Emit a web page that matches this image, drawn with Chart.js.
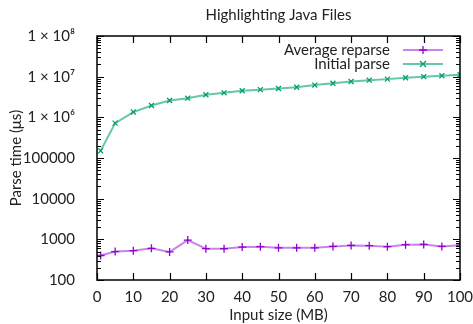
<!DOCTYPE html>
<html>
<head>
<meta charset="utf-8">
<script src="https://cdn.jsdelivr.net/npm/chart.js@4.4.1/dist/chart.umd.min.js"></script>
<style>
html,body{margin:0;padding:0;background:#fff;}
#wrap{width:473px;height:324px;}
</style>
</head>
<body>
<div id="wrap"><canvas id="c" width="473" height="324"></canvas></div>
<script>
const chartTitle = "Highlighting Java Files";
const xTitle = "Input size (MB)";
const yTitle = "Parse time (μs)";
const inputSizes = [1, 5, 10, 15, 20, 25, 30, 35, 40, 45, 50, 55, 60, 65, 70, 75, 80, 85, 90, 95, 100];
const averageReparse = [400, 500, 525, 600, 490, 960, 590, 590, 645, 660, 620, 620, 620, 670, 710, 700, 660, 740, 750, 670, 720];
const initialParse = [150000, 720000, 1350000, 1950000, 2600000, 2960000, 3600000, 4000000, 4500000, 4800000, 5100000, 5500000, 6200000, 6900000, 7600000, 8200000, 8700000, 9400000, 10000000, 10500000, 11200000];
const seriesNames = ["Average reparse", "Initial parse"];
const yTickValues = [100, 1000, 10000, 100000, 1000000, 10000000, 100000000];
const yTickLabels = ["100", "1000", "10000", "100000", "1 × 10⁶", "1 × 10⁷", "1 × 10⁸"];
const xTickValues = [0, 10, 20, 30, 40, 50, 60, 70, 80, 90, 100];

const FONT = "Lato";
const purple = "#9400d3", purpleLine = "rgba(165,50,220,0.6)";
const green = "#009e73", greenLine = "rgba(0,158,115,0.6)";

const decorPlugin = {
  id: 'decor',
  afterDraw(chart) {
    const ctx = chart.ctx, a = chart.chartArea;
    const xs = chart.scales.x, ys = chart.scales.y;
    ctx.save();
    ctx.strokeStyle = "#000";
    ctx.lineWidth = 1.2;
    ctx.beginPath();
    xTickValues.forEach(v => {
      const px = Math.round(xs.getPixelForValue(v)) + 0.5;
      ctx.moveTo(px, a.bottom); ctx.lineTo(px, a.bottom - 7);
      ctx.moveTo(px, a.top); ctx.lineTo(px, a.top + 7);
    });
    yTickValues.forEach((v, i) => {
      const py = Math.round(ys.getPixelForValue(v)) + 0.5;
      ctx.moveTo(a.left, py); ctx.lineTo(a.left + 7, py);
      ctx.moveTo(a.right, py); ctx.lineTo(a.right - 7, py);
      if (i < yTickValues.length - 1) {
        for (let m = 2; m <= 9; m++) {
          const my = Math.round(ys.getPixelForValue(v * m)) + 0.5;
          ctx.moveTo(a.left, my); ctx.lineTo(a.left + 4, my);
          ctx.moveTo(a.right, my); ctx.lineTo(a.right - 4, my);
        }
      }
    });
    ctx.stroke();
    ctx.lineWidth = 1.5;
    ctx.strokeRect(a.left, a.top, a.right - a.left, a.bottom - a.top);
    ctx.fillStyle = "#222";
    ctx.font = "15px " + FONT;
    ctx.textAlign = "center"; ctx.textBaseline = "middle";
    ctx.fillText(chartTitle, (a.left + a.right) / 2, 15);
    ctx.fillText(xTitle, (a.left + a.right) / 2, 315);
    ctx.save();
    ctx.translate(16, (a.top + a.bottom) / 2);
    ctx.rotate(-Math.PI / 2);
    ctx.fillText(yTitle, 0, 0);
    ctx.restore();
    const rows = [50, 64];
    chart.data.datasets.forEach((ds, i) => {
      const y = rows[i];
      ctx.fillStyle = "#222";
      ctx.textAlign = "right";
      ctx.font = "15px " + FONT;
      ctx.fillText(ds.label, 390, y);
      ctx.strokeStyle = ds.borderColor;
      ctx.lineWidth = 2;
      ctx.beginPath(); ctx.moveTo(403, y); ctx.lineTo(443, y); ctx.stroke();
      ctx.strokeStyle = ds.pointBorderColor;
      ctx.lineWidth = 1.3;
      ctx.beginPath();
      if (i === 0) {
        ctx.moveTo(419, y); ctx.lineTo(427, y); ctx.moveTo(423, y - 4); ctx.lineTo(423, y + 4);
      } else {
        ctx.moveTo(420, y - 3); ctx.lineTo(426, y + 3); ctx.moveTo(420, y + 3); ctx.lineTo(426, y - 3);
      }
      ctx.stroke();
    });
    ctx.restore();
  }
};

new Chart(document.getElementById('c'), {
  type: 'line',
  data: {
    datasets: [
      {
        label: seriesNames[0],
        data: inputSizes.map((x, i) => ({x: x, y: averageReparse[i]})),
        borderColor: purpleLine, borderWidth: 2,
        pointStyle: 'cross', pointRadius: 4, pointBorderColor: purple, pointBorderWidth: 1.3,
        pointBackgroundColor: purple, tension: 0
      },
      {
        label: seriesNames[1],
        data: inputSizes.map((x, i) => ({x: x, y: initialParse[i]})),
        borderColor: greenLine, borderWidth: 2,
        pointStyle: 'crossRot', pointRadius: 3.5, pointBorderColor: green, pointBorderWidth: 1.3,
        pointBackgroundColor: green, tension: 0
      }
    ]
  },
  options: {
    responsive: false,
    animation: false,
    events: [],
    layout: { padding: { left: 0, top: 36, right: 13, bottom: 0 } },
    plugins: { legend: { display: false }, title: { display: false }, tooltip: { enabled: false } },
    scales: {
      x: {
        type: 'linear', min: 0, max: 100,
        grid: { display: false },
        border: { display: false },
        afterFit(s) { s.height = 44; s.paddingLeft = 0; s.paddingRight = 0; },
        afterBuildTicks(s) { s.ticks = xTickValues.map(v => ({value: v})); },
        ticks: { color: "#222", font: { family: FONT, size: 15 }, padding: 0, maxRotation: 0, autoSkip: false }
      },
      y: {
        type: 'logarithmic', min: 100, max: 100000000,
        grid: { display: false },
        border: { display: false },
        afterFit(s) { s.width = 97; s.paddingTop = 0; s.paddingBottom = 0; },
        afterBuildTicks(s) { s.ticks = yTickValues.map(v => ({value: v})); },
        ticks: {
          color: "#222", font: { family: FONT, size: 15 }, padding: 14, autoSkip: false,
          callback: (v) => { const i = yTickValues.indexOf(v); return i >= 0 ? yTickLabels[i] : ''; }
        }
      }
    }
  },
  plugins: [decorPlugin]
});
</script>
</body>
</html>
